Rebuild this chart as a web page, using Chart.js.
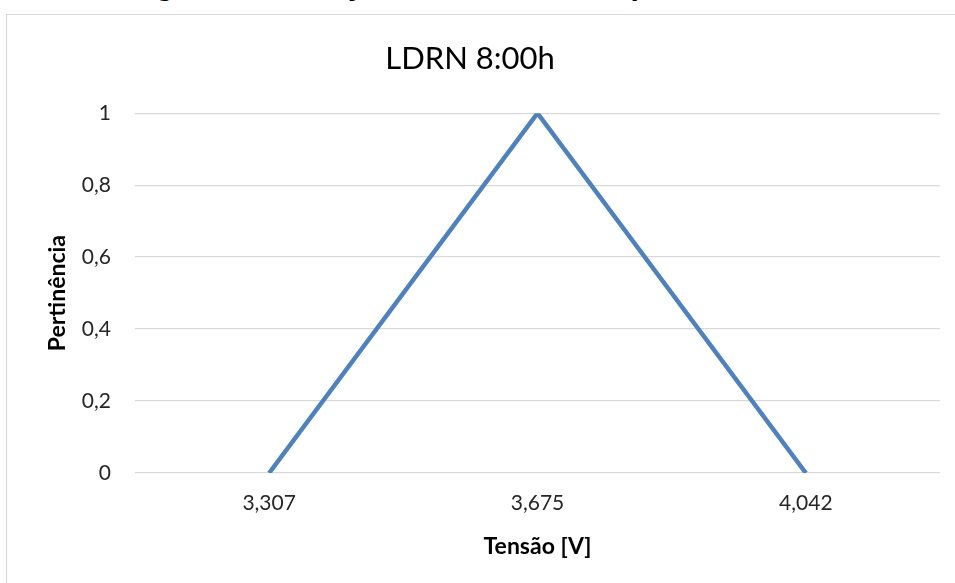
<!DOCTYPE html>
<html>
<head>
  <title>LDRN 8:00h</title>
  <script src="https://cdn.jsdelivr.net/npm/chart.js"></script>
  <style>
    body {
      margin: 0;
      width: 955px;
      height: 583px;
      overflow: hidden;
      background-color: #fff;
      font-family: Lato, 'Open Sans', Arial, sans-serif;
      position: relative;
    }

    .caption {
      position: absolute;
      left: 128px;
      top: -38px;
      font-size: 34px;
      line-height: 40px;
      font-weight: bold;
      white-space: nowrap;
      color: #000;
    }

    .frame {
      position: absolute;
      left: 6px;
      top: 14px;
      width: 960px;
      height: 580px;
      border: 1px solid #d9d9d9;
      box-sizing: border-box;
    }

    .chart-container {
      position: absolute;
      left: 0;
      top: 0;
      width: 955px;
      height: 583px;
    }
  </style>
</head>
<body>
  <div class="caption">Figura 3 – Função de Pertinência para o LDRN</div>
  <div class="frame"></div>
  <div class="chart-container">
    <canvas id="pertChart"></canvas>
  </div>

  <script>
    // values
    const tensaoLabels = ['3,307', '3,675', '4,042'];
    const pertinencia = [0, 1, 0];
    const yTicks = [0, 0.2, 0.4, 0.6, 0.8, 1];

    const ctx = document.getElementById('pertChart').getContext('2d');
    new Chart(ctx, {
      type: 'line',
      data: {
        labels: tensaoLabels,
        datasets: [{
          label: 'LDRN 8:00h',
          data: pertinencia,
          borderColor: '#4f81bd',
          backgroundColor: '#4f81bd',
          borderWidth: 4.5,
          pointRadius: 0,
          tension: 0,
          fill: false
        }]
      },
      options: {
        responsive: true,
        maintainAspectRatio: false,
        animation: false,
        layout: {
          padding: { left: 0, right: 15, top: 0, bottom: 0 }
        },
        plugins: {
          legend: { display: false },
          tooltip: { enabled: false },
          title: {
            display: true,
            text: 'LDRN 8:00h',
            color: '#000',
            font: { family: 'Lato', size: 31, weight: 'normal' },
            padding: { top: 40, bottom: 36 }
          }
        },
        scales: {
          x: {
            offset: true,
            grid: { display: false, drawTicks: false },
            border: { display: false },
            ticks: {
              color: '#262626',
              font: { family: 'Lato', size: 21 },
              padding: 18
            },
            title: {
              display: true,
              text: 'Tensão [V]',
              color: '#000',
              font: { family: 'Lato', size: 23, weight: 'bold' },
              padding: { top: 8, bottom: 23 }
            },
            afterFit: scale => { scale.height = 110; }
          },
          y: {
            min: 0,
            max: 1,
            afterBuildTicks: scale => {
              scale.ticks = yTicks.map(v => ({ value: v }));
            },
            grid: { color: '#d9d9d9', lineWidth: 1.3, drawTicks: false },
            border: { display: false },
            ticks: {
              color: '#262626',
              font: { family: 'Lato', size: 21 },
              padding: 24,
              callback: v => String(v).replace('.', ',')
            },
            title: {
              display: true,
              text: 'Pertinência',
              color: '#000',
              font: { family: 'Lato', size: 23, weight: 'bold' },
              padding: { top: 44, bottom: 0 }
            },
            afterFit: scale => { scale.width = 135; }
          }
        }
      }
    });
  </script>
</body>
</html>
